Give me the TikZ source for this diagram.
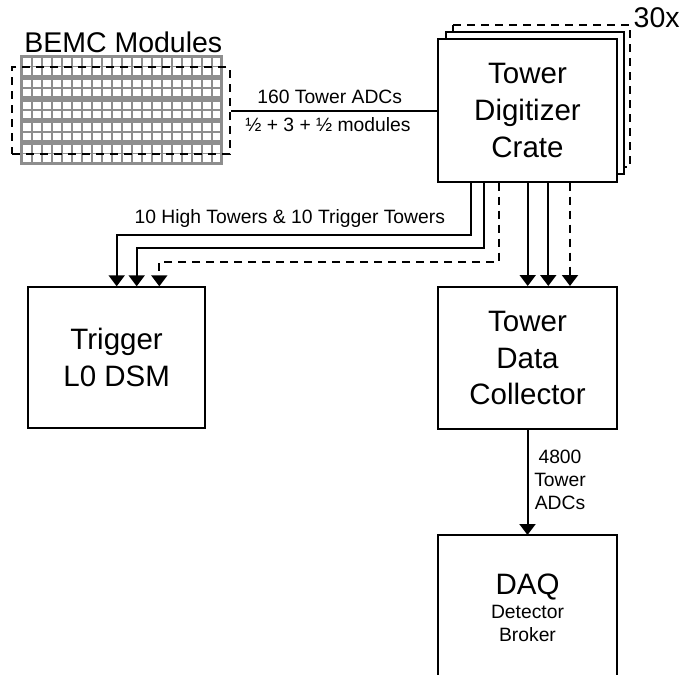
\documentclass[tikz,border=0pt]{standalone}
\usepackage{fontspec}
\setmainfont{Liberation Sans}
\usetikzlibrary{arrows.meta}
\definecolor{modgray}{HTML}{8E8E8E}
\begin{document}
\begin{tikzpicture}[x=1pt,y=-1pt,
  box/.style={draw, line width=2pt, fill=white, inner sep=0pt, align=center, font=\fontsize{29.5}{36.8}\selectfont},
  conn/.style={line width=2pt, -{Triangle[width=16pt,length=11pt]}},
  dconn/.style={conn, dash pattern=on 8pt off 6pt},
  dashbox/.style={line width=2pt, dash pattern=on 8pt off 6pt},
  lab/.style={font=\fontsize{19.3}{23.3}\selectfont, inner sep=0pt},
  big/.style={font=\fontsize{28.5}{34}\selectfont, inner sep=0pt},
]
\useasboundingbox (0,0) rectangle (686,675);

% BEMC modules
\foreach \i in {0,...,4}{
  \pgfmathsetmacro\yt{56.7+21.75*\i}
  \pgfmathsetmacro\yb{\yt+19.5}
  \pgfmathsetmacro\ym{\yt+9.75}
  \foreach \k in {1,...,19}{
    \draw[modgray, line width=1.8pt] ({21.7+10*\k},\yt) -- ({21.7+10*\k},\yb);
  }
  \draw[modgray, line width=1.8pt] (21.7,\ym) -- (221.7,\ym);
  \draw[modgray, line width=3pt] (21.7,\yt) rectangle (221.7,\yb);
}
\node[big, anchor=base] (bemctitle) at (123.3,52.6) {BEMC Modules};
\node[dashbox, draw, inner sep=0pt, minimum width=217.7pt, minimum height=86.6pt] (bemc) at (121.15,110.5) {};

% crate stack
\draw[dashbox] (453.3,25) rectangle (630,167);
\draw[line width=2pt, fill=white] (446,31.7) rectangle (624,174);
\node[box, minimum width=178.4pt, minimum height=142.4pt] (crate) at (527.5,110.5) {Tower\\Digitizer\\Crate};
\node[big, anchor=base] (count) at (656.7,27.1) {30x};

% lower boxes
\node[box, minimum width=176.7pt, minimum height=141pt] (trig) at (116.65,357.8) {Trigger\\L0 DSM};
\node[box, minimum width=178.4pt, minimum height=142pt] (tdc) at (527.5,358) {Tower\\Data\\Collector};
\node[minimum width=178.4pt, minimum height=150pt, inner sep=0pt, anchor=north] (daq) at (527.5,535) {};
\draw[line width=2pt] (daq.north west |- 0,677) -- (daq.north west) -- (daq.north east) -- (daq.north east |- 0,677);
\node[lab, anchor=north, align=center] (daqlabel) at (527.5,574) {{\fontsize{29.5}{29.5}\selectfont DAQ}\\Detector\\Broker};

% connections
\draw[line width=2pt] (bemc.east) -- (crate.west);
\node[lab, anchor=base] (l160) at (329.7,103.6) {160 Tower ADCs};
\node[lab, anchor=base] (lmod) at (328,131.9) {½ + 3 + ½ modules};

\draw[conn] ([xshift=-56.8pt]crate.south) |- (116.7,235) -- (116.7,0 |- trig.north);
\draw[conn] ([xshift=-43.2pt]crate.south) |- (136.7,248.3) -- (136.7,0 |- trig.north);
\draw[dconn] ([xshift=-28.5pt]crate.south) |- (159.3,261.7) -- (159.3,0 |- trig.north);
\node[lab, anchor=base] (lhigh) at (289.8,223.6) {10 High Towers \& 10 Trigger Towers};

\draw[conn] ([xshift=0.2pt]crate.south) -- ([xshift=0.2pt]tdc.north);
\draw[conn] ([xshift=20.8pt]crate.south) -- ([xshift=20.8pt]tdc.north);
\draw[dconn] ([xshift=42.5pt]crate.south) -- ([xshift=42.5pt]tdc.north);

\draw[conn] (tdc.south) -- (daq.north);
\node[lab, align=center] (l4800) at (560,479.8) {4800\\Tower\\ADCs};
\end{tikzpicture}
\end{document}
